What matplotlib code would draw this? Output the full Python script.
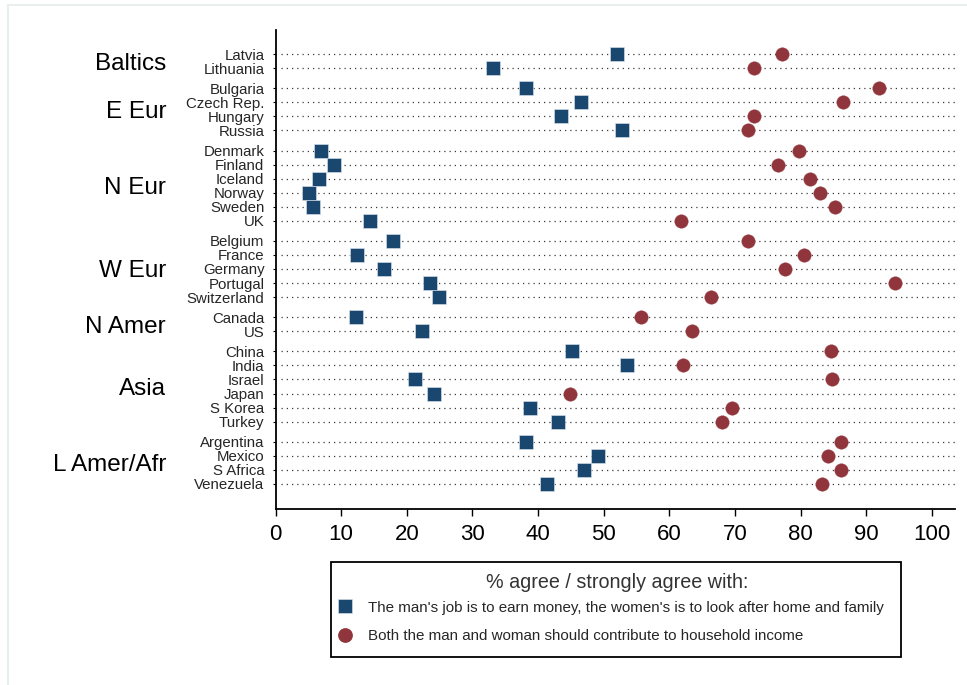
import matplotlib
matplotlib.use("Agg")
import matplotlib.pyplot as plt
import matplotlib.transforms as mtrans
from matplotlib.lines import Line2D
from matplotlib.patches import Rectangle

plt.rcParams['font.family'] = ['Liberation Sans', 'DejaVu Sans']

# ---------------- data ----------------
groups = ["Baltics", "E Eur", "N Eur", "W Eur", "N Amer", "Asia", "L Amer/Afr"]
baltics = ["Latvia", "Lithuania"]
e_eur = ["Bulgaria", "Czech Rep.", "Hungary", "Russia"]
n_eur = ["Denmark", "Finland", "Iceland", "Norway", "Sweden", "UK"]
w_eur = ["Belgium", "France", "Germany", "Portugal", "Switzerland"]
n_amer = ["Canada", "US"]
asia = ["China", "India", "Israel", "Japan", "S Korea", "Turkey"]
l_amer_afr = ["Argentina", "Mexico", "S Africa", "Venezuela"]
group_countries = [baltics, e_eur, n_eur, w_eur, n_amer, asia, l_amer_afr]

# % agree: "The man's job is to earn money, the women's is to look after home and family"
man_job = [52.0, 33.2,
           38.1, 46.5, 43.5, 52.8,
           7.0, 8.9, 6.6, 5.1, 5.7, 14.4,
           17.9, 12.4, 16.6, 23.6, 24.9,
           12.3, 22.3,
           45.1, 53.5, 21.2, 24.1, 38.7, 43.0,
           38.1, 49.2, 47.0, 41.4]
# % agree: "Both the man and woman should contribute to household income"
both_contribute = [77.2, 72.9,
                   91.9, 86.4, 72.9, 72.0,
                   79.7, 76.5, 81.4, 82.9, 85.2, 61.7,
                   71.9, 80.5, 77.6, 94.3, 66.3,
                   55.7, 63.4,
                   84.6, 62.1, 84.7, 44.8, 69.6, 68.0,
                   86.2, 84.1, 86.2, 83.2]
xticks = [0, 10, 20, 30, 40, 50, 60, 70, 80, 90, 100]
legend_title = "% agree / strongly agree with:"
series_labels = ["The man's job is to earn money, the women's is to look after home and family",
                 "Both the man and woman should contribute to household income"]

# ---------------- layout ----------------
W, H = 967, 685
fig = plt.figure(figsize=(W / 100, H / 100), dpi=100)
ax_left, ax_right, ax_top, ax_bot = 275.5, 955, 30, 509
ax = fig.add_axes([ax_left / W, 1 - ax_bot / H, (ax_right - ax_left) / W, (ax_bot - ax_top) / H])

row_step = 1.0
group_step = 20 / 14
positions, countries, group_centres = [], [], []
y = 0.0
for gi, clist in enumerate(group_countries):
    if gi > 0:
        y += group_step - row_step
    gpos = []
    for c in clist:
        positions.append(y)
        countries.append(c)
        gpos.append(y)
        y += row_step
    group_centres.append(sum(gpos) / len(gpos))

navy = "#1a476f"
maroon = "#90353b"

xmax = (ax_right - ax_left) / 6.565
ax.hlines(positions, 0.9, xmax, colors="#3a3a3a", linestyles=(0, (1, 3.2)), linewidth=0.9, zorder=1)

ax.plot(man_job, positions, linestyle="none", marker="s", markersize=10.2,
        color=navy, markeredgecolor="#dfe6ee", markeredgewidth=0.4, zorder=3)
ax.plot(both_contribute, positions, linestyle="none", marker="o", markersize=9.8,
        color=maroon, markeredgecolor=maroon, markeredgewidth=0.2, zorder=3)

ax.set_xlim(0, xmax)
ax.set_ylim(positions[-1] + 25 / 14, positions[0] - 24 / 14)
ax.set_xticks(xticks)
ax.set_xticklabels([str(t) for t in xticks], fontsize=16, color="black")
ax.set_yticks(positions)
ax.set_yticklabels(countries, fontsize=10.8, color="#262626")
ax.tick_params(axis="x", length=5, width=1.0, pad=6, color="black")
ax.tick_params(axis="y", length=2, width=0.8, pad=6, color="black")
for s in ["top", "right"]:
    ax.spines[s].set_visible(False)
ax.spines["left"].set_linewidth(1.3)
ax.spines["bottom"].set_linewidth(1.3)
ax.spines["left"].set_color("black")
ax.spines["bottom"].set_color("black")

# group labels
trans = mtrans.blended_transform_factory(fig.transFigure, ax.transData)
for g, yc in zip(groups, group_centres):
    ax.text(166 / W, yc, g, transform=trans, ha="right", va="center_baseline",
            fontsize=17.5, color="black", clip_on=False)

# legend
fig.patches.append(Rectangle((331 / W, 1 - 657 / H), 570 / W, 95 / H, transform=fig.transFigure,
                             fill=False, edgecolor="black", linewidth=1.3))
fig.text(617 / W, 1 - 582 / H, legend_title, ha="center", va="center", fontsize=14.2, color="#333333")
handles = [Line2D([], [], linestyle="none", marker="s", markersize=10, color=navy,
                  markeredgecolor="#dfe6ee", markeredgewidth=0.4),
           Line2D([], [], linestyle="none", marker="o", markersize=9.6, color=maroon)]
fig.legend(handles, series_labels, loc="center left",
           bbox_to_anchor=(337.5 / W, 1 - 622 / H), bbox_transform=fig.transFigure,
           frameon=False, fontsize=10.9, handlelength=1.0, handletextpad=1.0,
           borderpad=0, borderaxespad=0, labelspacing=0.97, labelcolor="#262626", numpoints=1)

# faint outer frame
fig.lines.append(Line2D([7.5 / W, 7.5 / W], [0, 1 - 5 / H], transform=fig.transFigure,
                        color="#e9eeee", linewidth=1.5))
fig.lines.append(Line2D([7.5 / W, 1], [1 - 5 / H, 1 - 5 / H], transform=fig.transFigure,
                        color="#e9eeee", linewidth=1.5))

fig.savefig("out.png", dpi=100)
